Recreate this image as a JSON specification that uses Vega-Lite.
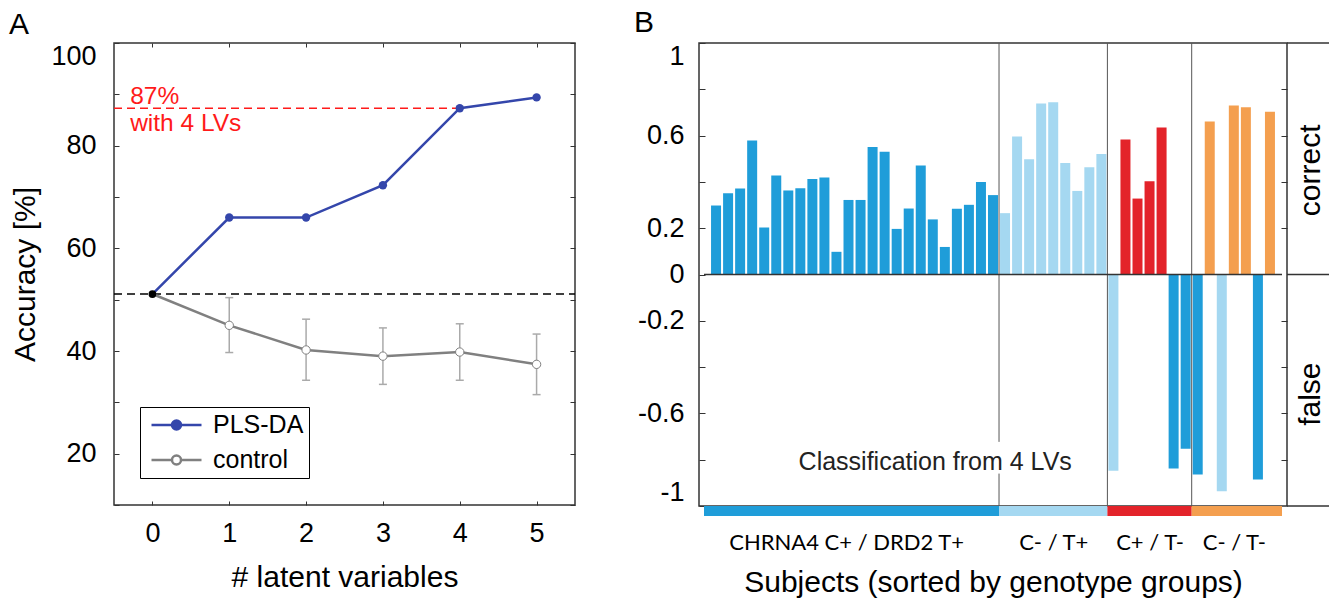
{
  "$schema": "https://vega.github.io/schema/vega-lite/v6.json",
  "background": "white",
  "padding": {"left": 8, "top": 7, "right": 0, "bottom": 0},
  "config": {
    "font": "Liberation Sans",
    "view": {"stroke": "#333333", "strokeWidth": 1.5},
    "axis": {"grid": false, "domain": false, "labelColor": "black", "titleColor": "black", "titleFontWeight": "normal", "tickColor": "#333333", "tickWidth": 1, "labelFont": "Liberation Sans", "titleFont": "Liberation Sans", "labelOverlap": false},
    "title": {"fontSize": 30, "fontWeight": "normal", "anchor": "start", "frame": "group", "color": "black", "font": "Liberation Sans"}
  },
  "datasets": {
    "acc": [
      {"lv": 0, "acc": 51.1, "series": "PLS-DA"},
      {"lv": 1, "acc": 66.0, "series": "PLS-DA"},
      {"lv": 2, "acc": 66.0, "series": "PLS-DA"},
      {"lv": 3, "acc": 72.3, "series": "PLS-DA"},
      {"lv": 4, "acc": 87.3, "series": "PLS-DA"},
      {"lv": 5, "acc": 89.4, "series": "PLS-DA"},
      {"lv": 0, "acc": 51.1, "series": "control"},
      {"lv": 1, "acc": 45.0, "series": "control"},
      {"lv": 2, "acc": 40.2, "series": "control"},
      {"lv": 3, "acc": 39.0, "series": "control"},
      {"lv": 4, "acc": 39.8, "series": "control"},
      {"lv": 5, "acc": 37.4, "series": "control"}
    ],
    "ctrl_err": [
      {"lv": 1, "acc": 39.7, "acc2": 50.4},
      {"lv": 2, "acc": 34.3, "acc2": 46.2},
      {"lv": 3, "acc": 33.5, "acc2": 44.5},
      {"lv": 4, "acc": 34.3, "acc2": 45.3},
      {"lv": 5, "acc": 31.5, "acc2": 43.3}
    ],
    "chance": [{"lv": -0.5, "lv2": 5.5, "acc": 51.1}],
    "best": [{"lv": -0.5, "lv2": 4, "acc": 87.3}],
    "notes": [
      {"lv": -0.29, "acc": 88.1, "text": "87%"},
      {"lv": -0.29, "acc": 82.8, "text": "with 4 LVs"}
    ],
    "subjects": [
      {"idx": 1, "val": 0.298, "cls": "CHRNA4 C+ / DRD2 T+"},
      {"idx": 2, "val": 0.351, "cls": "CHRNA4 C+ / DRD2 T+"},
      {"idx": 3, "val": 0.371, "cls": "CHRNA4 C+ / DRD2 T+"},
      {"idx": 4, "val": 0.579, "cls": "CHRNA4 C+ / DRD2 T+"},
      {"idx": 5, "val": 0.203, "cls": "CHRNA4 C+ / DRD2 T+"},
      {"idx": 6, "val": 0.428, "cls": "CHRNA4 C+ / DRD2 T+"},
      {"idx": 7, "val": 0.363, "cls": "CHRNA4 C+ / DRD2 T+"},
      {"idx": 8, "val": 0.373, "cls": "CHRNA4 C+ / DRD2 T+"},
      {"idx": 9, "val": 0.412, "cls": "CHRNA4 C+ / DRD2 T+"},
      {"idx": 10, "val": 0.419, "cls": "CHRNA4 C+ / DRD2 T+"},
      {"idx": 11, "val": 0.098, "cls": "CHRNA4 C+ / DRD2 T+"},
      {"idx": 12, "val": 0.322, "cls": "CHRNA4 C+ / DRD2 T+"},
      {"idx": 13, "val": 0.322, "cls": "CHRNA4 C+ / DRD2 T+"},
      {"idx": 14, "val": 0.551, "cls": "CHRNA4 C+ / DRD2 T+"},
      {"idx": 15, "val": 0.530, "cls": "CHRNA4 C+ / DRD2 T+"},
      {"idx": 16, "val": 0.197, "cls": "CHRNA4 C+ / DRD2 T+"},
      {"idx": 17, "val": 0.285, "cls": "CHRNA4 C+ / DRD2 T+"},
      {"idx": 18, "val": 0.471, "cls": "CHRNA4 C+ / DRD2 T+"},
      {"idx": 19, "val": 0.238, "cls": "CHRNA4 C+ / DRD2 T+"},
      {"idx": 20, "val": 0.119, "cls": "CHRNA4 C+ / DRD2 T+"},
      {"idx": 21, "val": 0.284, "cls": "CHRNA4 C+ / DRD2 T+"},
      {"idx": 22, "val": 0.301, "cls": "CHRNA4 C+ / DRD2 T+"},
      {"idx": 23, "val": 0.400, "cls": "CHRNA4 C+ / DRD2 T+"},
      {"idx": 24, "val": 0.343, "cls": "CHRNA4 C+ / DRD2 T+"},
      {"idx": 25, "val": 0.265, "cls": "C- / T+"},
      {"idx": 26, "val": 0.596, "cls": "C- / T+"},
      {"idx": 27, "val": 0.498, "cls": "C- / T+"},
      {"idx": 28, "val": 0.739, "cls": "C- / T+"},
      {"idx": 29, "val": 0.744, "cls": "C- / T+"},
      {"idx": 30, "val": 0.482, "cls": "C- / T+"},
      {"idx": 31, "val": 0.361, "cls": "C- / T+"},
      {"idx": 32, "val": 0.463, "cls": "C- / T+"},
      {"idx": 33, "val": 0.520, "cls": "C- / T+"},
      {"idx": 34, "val": -0.848, "cls": "C- / T+"},
      {"idx": 35, "val": 0.583, "cls": "C+ / T-"},
      {"idx": 36, "val": 0.328, "cls": "C+ / T-"},
      {"idx": 37, "val": 0.403, "cls": "C+ / T-"},
      {"idx": 38, "val": 0.635, "cls": "C+ / T-"},
      {"idx": 39, "val": -0.838, "cls": "CHRNA4 C+ / DRD2 T+"},
      {"idx": 40, "val": -0.753, "cls": "CHRNA4 C+ / DRD2 T+"},
      {"idx": 41, "val": -0.864, "cls": "CHRNA4 C+ / DRD2 T+"},
      {"idx": 42, "val": 0.661, "cls": "C- / T-"},
      {"idx": 43, "val": -0.936, "cls": "C- / T+"},
      {"idx": 44, "val": 0.730, "cls": "C- / T-"},
      {"idx": 45, "val": 0.723, "cls": "C- / T-"},
      {"idx": 46, "val": -0.886, "cls": "CHRNA4 C+ / DRD2 T+"},
      {"idx": 47, "val": 0.703, "cls": "C- / T-"}
    ],
    "strip": [
      {"idx": 0, "idx2": 24.5, "val": -1, "val2": -1.043, "cls": "CHRNA4 C+ / DRD2 T+"},
      {"idx": 24.5, "idx2": 33.5, "val": -1, "val2": -1.043, "cls": "C- / T+"},
      {"idx": 33.5, "idx2": 40.5, "val": -1, "val2": -1.043, "cls": "C+ / T-"},
      {"idx": 40.5, "idx2": 48, "val": -1, "val2": -1.043, "cls": "C- / T-"}
    ],
    "seps": [
      {"idx": 24.5, "val": 1, "val2": -0.723},
      {"idx": 24.5, "val": -0.86, "val2": -1},
      {"idx": 33.5, "val": 1, "val2": -1},
      {"idx": 40.5, "val": 1, "val2": -1}
    ],
    "zero": [{"idx": 0, "idx2": 48, "val": 0}],
    "bnote": [{"idx": 19.2, "val": -0.811, "text": "Classification from 4 LVs"}],
    "side_rules": [
      {"x": 0, "x2": 1, "v": 1},
      {"x": 0, "x2": 1, "v": 0},
      {"x": 0, "x2": 1, "v": -1}
    ],
    "side_text": [
      {"x": 0.55, "v": 0.45, "text": "correct"},
      {"x": 0.55, "v": -0.517, "text": "false"}
    ]
  },
  "bounds": "flush",
  "spacing": 124,
  "hconcat": [
    {
      "width": 461,
      "height": 462,
      "title": {"text": "A", "dx": -105, "offset": -21.5, "baseline": "alphabetic"},
      "encoding": {
        "x": {"field": "lv", "type": "quantitative", "scale": {"domain": [-0.5, 5.5], "nice": false, "zero": false}, "axis": null},
        "y": {"field": "acc", "type": "quantitative", "scale": {"domain": [10, 100], "nice": false, "zero": false}, "axis": null}
      },
      "layer": [
        {"data": {"name": "chance"}, "mark": {"type": "rule", "color": "black", "strokeWidth": 1.5, "strokeDash": [8, 5]}, "encoding": {"x2": {"field": "lv2"}}},
        {"data": {"name": "best"}, "mark": {"type": "rule", "color": "#ff1a1a", "strokeWidth": 1.5, "strokeDash": [8, 5]}, "encoding": {"x2": {"field": "lv2"}}},
        {"data": {"name": "notes"}, "mark": {"type": "text", "color": "#ff1a1a", "fontSize": 24.5, "align": "left", "baseline": "alphabetic"}, "encoding": {"text": {"field": "text"}}},
        {"data": {"name": "ctrl_err"}, "mark": {"type": "rule", "color": "#aaaaaa", "strokeWidth": 1.5}, "encoding": {"y2": {"field": "acc2"}}},
        {"data": {"name": "ctrl_err"}, "mark": {"type": "tick", "color": "#aaaaaa", "thickness": 1.5, "size": 8, "orient": "horizontal", "opacity": 1}},
        {"data": {"name": "ctrl_err"}, "mark": {"type": "tick", "color": "#aaaaaa", "thickness": 1.5, "size": 8, "orient": "horizontal", "opacity": 1},
         "encoding": {"y": {"field": "acc2", "type": "quantitative", "scale": {"domain": [10, 100], "nice": false, "zero": false}, "axis": null}}},
        {"data": {"name": "acc"}, "mark": {"type": "line", "strokeWidth": 2.5},
         "encoding": {
           "x": {"field": "lv", "type": "quantitative", "scale": {"domain": [-0.5, 5.5], "nice": false, "zero": false},
                 "axis": {"orient": "bottom", "values": [0, 1, 2, 3, 4, 5], "tickSize": -4, "labelFontSize": 27, "labelPadding": 19, "title": "# latent variables", "titleFontSize": 30, "titlePadding": 16}},
           "y": {"field": "acc", "type": "quantitative", "scale": {"domain": [10, 100], "nice": false, "zero": false},
                 "axis": {"orient": "left", "values": [10, 20, 30, 40, 50, 60, 70, 80, 90, 100], "tickSize": -5, "labelFontSize": 27, "labelPadding": 23, "labelFlush": true, "labelExpr": "datum.value % 20 === 0 ? datum.label : ''", "title": "Accuracy [%]", "titleFontSize": 30, "titlePadding": 10}},
           "stroke": {"field": "series", "type": "nominal", "scale": {"domain": ["PLS-DA", "control"], "range": ["#3446ab", "#808080"]},
                      "legend": {"title": null, "orient": "none", "legendX": 26, "legendY": 364, "symbolType": "M-0.8,0H0.02M0.38,0H1.2M0.38,0A0.18,0.18 0 1 1 0.02,0A0.18,0.18 0 1 1 0.38,0", "symbolSize": 2500, "symbolStrokeWidth": 2.5, "clipHeight": 26, "labelFontSize": 25, "labelFont": "Liberation Sans", "labelColor": "black", "labelOffset": 15, "rowPadding": 9, "padding": 5, "strokeColor": "black", "fillColor": "white",
                                 "encode": {"symbols": {"update": {"fill": {"signal": "datum.value === 'PLS-DA' ? '#3446ab' : 'white'"}, "fillOpacity": {"value": 1}, "opacity": {"value": 1}}}}}}
         }},
        {"data": {"name": "acc"}, "transform": [{"filter": "datum.series === 'control' && datum.lv > 0"}], "mark": {"type": "point", "filled": true, "fill": "white", "stroke": "#808080", "strokeWidth": 1, "size": 70, "opacity": 1}},
        {"data": {"name": "acc"}, "transform": [{"filter": "datum.series === 'PLS-DA' && datum.lv > 0"}], "mark": {"type": "circle", "color": "#3446ab", "size": 70, "opacity": 1}},
        {"data": {"name": "acc"}, "transform": [{"filter": "datum.lv === 0 && datum.series === 'PLS-DA'"}], "mark": {"type": "circle", "color": "black", "size": 60, "opacity": 1},
         "encoding": {
           "x": {"field": "lv", "type": "quantitative", "scale": {"domain": [-0.5, 5.5], "nice": false, "zero": false},
                 "axis": {"orient": "top", "values": [0, 1, 2, 3, 4, 5], "tickSize": -4, "labels": false, "title": null}},
           "y": {"field": "acc", "type": "quantitative", "scale": {"domain": [10, 100], "nice": false, "zero": false},
                 "axis": {"orient": "right", "values": [10, 20, 30, 40, 50, 60, 70, 80, 90, 100], "tickSize": -5, "labels": false, "title": null}}
         }}
      ],
      "resolve": {"axis": {"x": "independent", "y": "independent"}}
    },
    {
      "bounds": "flush",
      "spacing": 0,
      "hconcat": [
        {
          "width": 588,
          "height": 463,
          "title": {"text": "B", "dx": -65, "offset": -20, "baseline": "alphabetic"},
          "encoding": {
            "x": {"field": "idx", "type": "quantitative", "scale": {"domain": [0, 48], "nice": false, "zero": false}, "axis": null},
            "y": {"field": "val", "type": "quantitative", "scale": {"domain": [-1, 1], "nice": false, "zero": false}, "axis": null}
          },
          "layer": [
            {"data": {"name": "subjects"}, "mark": {"type": "bar", "size": 10},
             "encoding": {
               "x": {"field": "idx", "type": "quantitative", "scale": {"domain": [0, 48], "nice": false, "zero": false},
                     "axis": {"orient": "bottom", "values": [11.8, 29, 37, 44], "ticks": false, "labelFont": "Lato", "labelFontSize": 22, "labelPadding": 26, "labelFlush": false, "labelLimit": 0,
                              "labelExpr": "datum.value < 20 ? 'CHRNA4 C+ / DRD2 T+' : datum.value < 33 ? 'C- / T+' : datum.value < 40 ? 'C+ / T-' : 'C- / T-'",
                              "title": "Subjects (sorted by genotype groups)", "titleFontSize": 30, "titlePadding": 14}},
               "y": {"field": "val", "type": "quantitative", "scale": {"domain": [-1, 1], "nice": false, "zero": false},
                     "axis": {"orient": "left", "values": [-1, -0.8, -0.6, -0.4, -0.2, 0, 0.2, 0.4, 0.6, 0.8, 1], "tickSize": -6, "labelFontSize": 27, "labelPadding": 21, "labelFlush": true,
                              "labelExpr": "((abs(datum.value) > 0.7 && abs(datum.value) < 0.9) || (abs(datum.value) > 0.3 && abs(datum.value) < 0.5)) ? '' : '' + datum.value", "title": null}},
               "y2": {"datum": 0},
               "color": {"field": "cls", "type": "nominal", "scale": {"domain": ["CHRNA4 C+ / DRD2 T+", "C- / T+", "C+ / T-", "C- / T-"], "range": ["#1f9dd9", "#a5d8f1", "#e3232a", "#f49f4f"]}, "legend": null}
             }},
            {"data": {"name": "strip"}, "mark": {"type": "rect"},
             "encoding": {"x2": {"field": "idx2"}, "y2": {"field": "val2"},
                          "color": {"field": "cls", "type": "nominal", "scale": {"domain": ["CHRNA4 C+ / DRD2 T+", "C- / T+", "C+ / T-", "C- / T-"], "range": ["#1f9dd9", "#a5d8f1", "#e3232a", "#f49f4f"]}, "legend": null}}},
            {"data": {"name": "seps"}, "mark": {"type": "rule", "color": "#555555", "strokeWidth": 1}, "encoding": {"y2": {"field": "val2"}}},
            {"data": {"name": "zero"}, "mark": {"type": "rule", "color": "#333333", "strokeWidth": 1.5},
             "encoding": {"x2": {"field": "idx2"},
                          "y": {"field": "val", "type": "quantitative", "scale": {"domain": [-1, 1], "nice": false, "zero": false},
                                "axis": {"orient": "right", "values": [-0.8, -0.6, -0.4, -0.2, 0.2, 0.4, 0.6, 0.8], "tickSize": -6, "labels": false, "title": null}}}},
            {"data": {"name": "bnote"}, "mark": {"type": "text", "fontSize": 25, "align": "center", "baseline": "middle", "color": "#222222"}, "encoding": {"text": {"field": "text"}}}
          ],
          "resolve": {"axis": {"x": "independent", "y": "independent"}}
        },
        {
          "width": 43,
          "height": 463,
          "view": {"stroke": null},
          "encoding": {
            "x": {"field": "x", "type": "quantitative", "scale": {"domain": [0, 1], "nice": false, "zero": false}, "axis": null},
            "y": {"field": "v", "type": "quantitative", "scale": {"domain": [-1, 1], "nice": false, "zero": false}, "axis": null}
          },
          "layer": [
            {"data": {"name": "side_rules"}, "mark": {"type": "rule", "color": "#333333", "strokeWidth": 1.5}, "encoding": {"x2": {"field": "x2"}}},
            {"data": {"name": "side_text"}, "mark": {"type": "text", "fontSize": 30, "angle": 270, "align": "center", "baseline": "middle", "color": "black"}, "encoding": {"text": {"field": "text"}}}
          ]
        }
      ]
    }
  ]
}
